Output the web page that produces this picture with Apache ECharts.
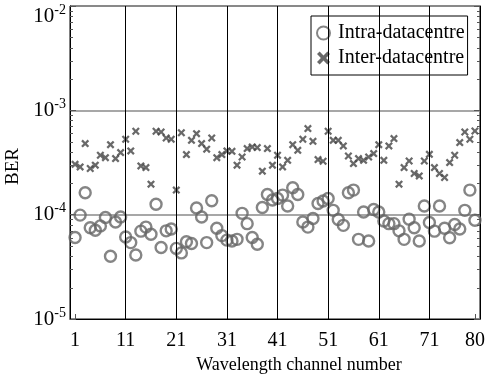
<!DOCTYPE html>
<html>
<head>
<meta charset="utf-8">
<script src="https://cdn.jsdelivr.net/npm/echarts@6/dist/echarts.min.js"></script>
<style>
  html, body { margin: 0; padding: 0; background: #fff; }
  #chart { width: 493px; height: 381px; }
</style>
</head>
<body>
<div id="chart"></div>
<script>
const channels = [
  1, 2, 3, 4, 5, 6, 7, 8, 9, 10, 11, 12, 13, 14, 15, 16, 17, 18, 19, 20,
  21, 22, 23, 24, 25, 26, 27, 28, 29, 30, 31, 32, 33, 34, 35, 36, 37, 38, 39, 40,
  41, 42, 43, 44, 45, 46, 47, 48, 49, 50, 51, 52, 53, 54, 55, 56, 57, 58, 59, 60,
  61, 62, 63, 64, 65, 66, 67, 68, 69, 70, 71, 72, 73, 74, 75, 76, 77, 78, 79, 80
];

const intraBer = [
  6.05e-5, 9.9e-5, 1.62e-4, 7.5e-5, 7.1e-5, 7.8e-5, 9.4e-5, 4.0e-5, 8.5e-5, 9.5e-5,
  6.1e-5, 5.4e-5, 4.1e-5, 6.95e-5, 7.6e-5, 6.5e-5, 1.26e-4, 4.85e-5, 7.0e-5, 7.3e-5,
  4.75e-5, 4.3e-5, 5.5e-5, 5.3e-5, 1.16e-4, 9.5e-5, 5.4e-5, 1.36e-4, 7.4e-5, 6.3e-5,
  5.7e-5, 5.6e-5, 5.8e-5, 1.03e-4, 8.2e-5, 6.05e-5, 5.2e-5, 1.17e-4, 1.56e-4, 1.38e-4,
  1.43e-4, 1.54e-4, 1.21e-4, 1.81e-4, 1.56e-4, 8.5e-5, 7.6e-5, 9.2e-5, 1.28e-4, 1.35e-4,
  1.43e-4, 1.10e-4, 9.0e-5, 7.9e-5, 1.62e-4, 1.72e-4, 5.8e-5, 1.06e-4, 5.6e-5, 1.12e-4,
  1.06e-4, 8.7e-5, 8.2e-5, 8.2e-5, 7.0e-5, 5.8e-5, 9.06e-5, 7.5e-5, 5.6e-5, 1.21e-4,
  8.4e-5, 6.95e-5, 1.21e-4, 7.4e-5, 6.0e-5, 8.05e-5, 7.3e-5, 1.10e-4, 1.72e-4, 8.85e-5
];

const interBer = [
  3.04e-4, 2.87e-4, 4.80e-4, 2.77e-4, 2.98e-4, 3.71e-4, 3.52e-4, 4.69e-4, 3.45e-4, 3.94e-4,
  5.28e-4, 4.08e-4, 6.30e-4, 2.93e-4, 2.83e-4, 1.96e-4, 6.30e-4, 6.2e-4, 5.43e-4, 5.28e-4,
  1.72e-4, 6.1e-4, 3.77e-4, 5.16e-4, 5.98e-4, 4.8e-4, 4.24e-4, 5.43e-4, 3.52e-4, 3.77e-4,
  4.08e-4, 4.05e-4, 2.98e-4, 3.57e-4, 4.3e-4, 4.46e-4, 4.4e-4, 2.61e-4, 4.3e-4, 2.98e-4,
  3.71e-4, 2.87e-4, 3.32e-4, 4.69e-4, 4.14e-4, 5.28e-4, 6.68e-4, 5.05e-4, 3.37e-4, 3.25e-4,
  6.3e-4, 5.16e-4, 5.16e-4, 4.56e-4, 3.65e-4, 3.09e-4, 3.45e-4, 3.32e-4, 3.57e-4, 3.85e-4,
  4.69e-4, 3.32e-4, 4.56e-4, 5.36e-4, 1.96e-4, 2.83e-4, 3.27e-4, 2.48e-4, 2.35e-4, 3.27e-4,
  3.79e-4, 2.83e-4, 2.48e-4, 2.27e-4, 3.16e-4, 3.71e-4, 4.91e-4, 6.2e-4, 5.28e-4, 6.34e-4
];

const xTickValues = [1, 11, 21, 31, 41, 51, 61, 71, 80];
const xGridValues = [11, 21, 31, 41, 51, 61, 71];
const yMinorTicks = [
  2e-5, 3e-5, 4e-5, 5e-5, 6e-5, 7e-5, 8e-5, 9e-5,
  2e-4, 3e-4, 4e-4, 5e-4, 6e-4, 7e-4, 8e-4, 9e-4,
  2e-3, 3e-3, 4e-3, 5e-3, 6e-3, 7e-3, 8e-3, 9e-3
];
const seriesNames = ["Intra-datacentre", "Inter-datacentre"];

const FONT = "Liberation Serif";
const crossPath = "path://M0,2 L2,0 L5,3 L8,0 L10,2 L7,5 L10,8 L8,10 L5,7 L2,10 L0,8 L3,5 Z";
const Y_MAX = 1e-2;

const chart = echarts.init(document.getElementById("chart"), null, { renderer: "canvas" });

function pairs(ys) {
  return ys.map((y, i) => [channels[i], y]);
}

// "10" with a raised exponent; the top label is pushed down to stay inside the page
function powerLabel(v) {
  const exp = Math.round(Math.log10(v));
  if (v >= Y_MAX * 0.999) return "{bt|10}{st|" + exp + "}";
  return "{b|10}{s|" + exp + "}";
}

const yAxisBase = {
  type: "log",
  logBase: 10,
  min: 1e-5,
  max: Y_MAX,
  axisLine: { show: true, lineStyle: { color: "#000", width: 1 } },
  axisTick: { show: true, inside: true, length: 6, lineStyle: { color: "#555" } }
};

const option = {
  animation: false,
  backgroundColor: "#fff",
  grid: {
    left: 70, right: 13, top: 6, bottom: 62,
    outerBoundsMode: "none",
    containLabel: false,
    show: true, borderColor: "#000", borderWidth: 1, backgroundColor: "#fff"
  },
  legend: {
    left: 311, top: 16,
    orient: "vertical",
    data: seriesNames,
    backgroundColor: "#fff",
    borderColor: "#000",
    borderWidth: 1,
    padding: [7, 3, 7, 5],
    itemGap: 5,
    itemWidth: 13,
    itemHeight: 13,
    textStyle: { fontFamily: FONT, fontSize: 20, color: "#000", padding: [0, 0, 0, 3] }
  },
  xAxis: {
    type: "value",
    min: 0,
    max: 81,
    name: "Wavelength channel number",
    nameLocation: "middle",
    nameGap: 36,
    nameTextStyle: { fontFamily: FONT, fontSize: 18, color: "#000", padding: [0, 0, 0, 48] },
    axisLine: { show: true, lineStyle: { color: "#000" } },
    axisTick: { show: true, inside: true, length: 5, customValues: xTickValues, lineStyle: { color: "#555" } },
    axisLabel: { customValues: xTickValues, fontFamily: FONT, fontSize: 20, color: "#000", margin: 12 },
    splitLine: { show: false }
  },
  yAxis: [
    Object.assign({}, yAxisBase, {
      position: "left",
      name: "BER",
      nameLocation: "middle",
      nameGap: 32,
      nameTextStyle: { fontFamily: FONT, fontSize: 19, color: "#000", padding: [14, 8, 0, 0] },
      axisLabel: {
        margin: 4,
        formatter: powerLabel,
        rich: {
          b: { fontFamily: FONT, fontSize: 21, color: "#000", lineHeight: 26 },
          s: { fontFamily: FONT, fontSize: 14, color: "#000", lineHeight: 14, verticalAlign: "top" },
          bt: { fontFamily: FONT, fontSize: 21, color: "#000", lineHeight: 24, padding: [20, 0, 0, 0] },
          st: { fontFamily: FONT, fontSize: 14, color: "#000", lineHeight: 12, padding: [20, 0, 12, 0] }
        }
      },
      splitLine: { show: true, lineStyle: { color: "#8a8a8a", width: 1.5 } }
    }),
    Object.assign({}, yAxisBase, {
      position: "right",
      axisLabel: { show: false },
      splitLine: { show: false }
    })
  ],
  series: [
    {
      name: seriesNames[0],
      type: "scatter",
      data: pairs(intraBer),
      symbol: "circle",
      symbolSize: 11,
      itemStyle: { color: "rgba(0,0,0,0)", borderColor: "#666", borderWidth: 2.4 },
      markLine: {
        silent: true,
        symbol: "none",
        label: { show: false },
        lineStyle: { color: "#000", width: 1, type: "solid" },
        data: xGridValues.map(v => ({ xAxis: v }))
      },
      z: 3
    },
    {
      name: seriesNames[1],
      type: "scatter",
      data: pairs(interBer),
      symbol: crossPath,
      symbolSize: 8,
      itemStyle: { color: "#444" },
      markLine: {
        silent: true,
        symbol: "none",
        label: { show: false },
        lineStyle: { color: "#bbb", width: 1, type: "dashed" },
        data: [{ yAxis: 1e-3 }]
      },
      z: 4
    }
  ]
};

chart.setOption(option);

// log-spaced minor ticks on the left and right frame edges
function drawMinorTicks() {
  const left = chart.convertToPixel({ xAxisIndex: 0 }, 0);
  const right = chart.convertToPixel({ xAxisIndex: 0 }, 81);
  const els = [];
  yMinorTicks.forEach(v => {
    const y = Math.round(chart.convertToPixel({ yAxisIndex: 0 }, v)) + 0.5;
    els.push({ type: "line", shape: { x1: left, y1: y, x2: left + 3, y2: y }, style: { stroke: "#555", lineWidth: 1 }, z: 10 });
    els.push({ type: "line", shape: { x1: right, y1: y, x2: right - 3, y2: y }, style: { stroke: "#555", lineWidth: 1 }, z: 10 });
  });
  chart.setOption({ graphic: els });
}
drawMinorTicks();
</script>
</body>
</html>
